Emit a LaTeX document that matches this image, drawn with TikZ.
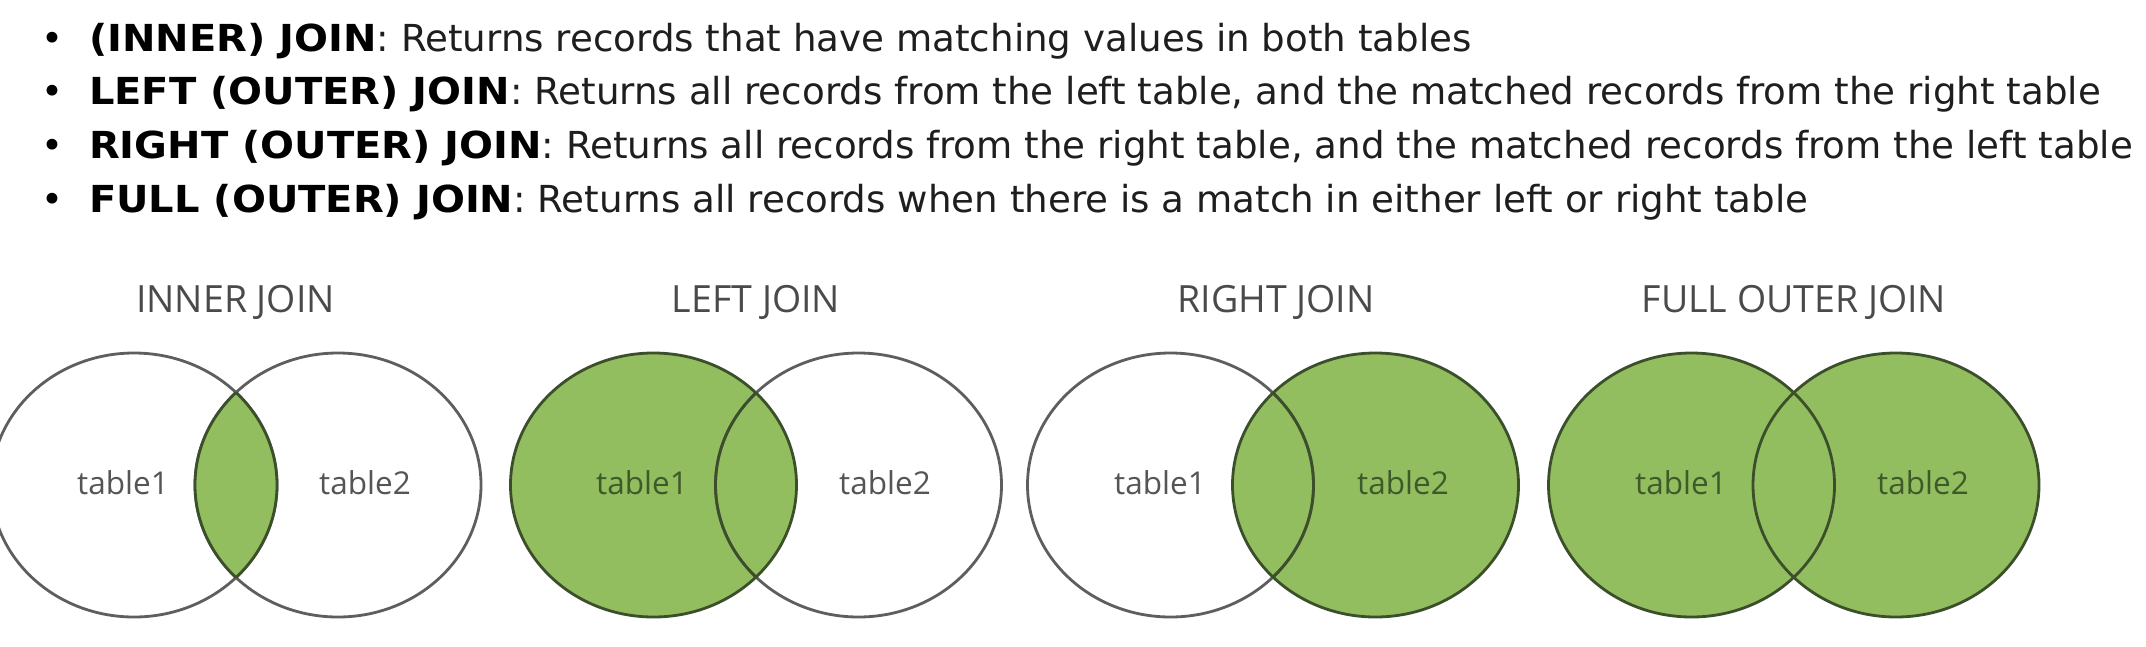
\documentclass[tikz,border=0pt]{standalone}
\usepackage{fontspec}
\setmainfont{DejaVu Sans}[BoldFeatures={FakeStretch=1.075}]
\newfontfamily\titlefont{Open Sans}
\definecolor{vgreen}{HTML}{93BE5F}
\definecolor{vgreenline}{HTML}{3B4F2B}
\definecolor{vgrayline}{HTML}{5E5E5E}
\definecolor{titlegray}{HTML}{4A4A4A}
\definecolor{labelgray}{HTML}{555555}
\definecolor{labelgreen}{HTML}{3E5A2A}
\definecolor{bodytext}{HTML}{1E1E1E}
\begin{document}
\begin{tikzpicture}[x=1pt,y=-1pt,
  bulletdot/.style={anchor=base,inner sep=0pt,font=\fontsize{37.2}{44}\selectfont,text=black},
  textline/.style={anchor=base west,inner sep=0pt,font=\fontsize{37.2}{44}\selectfont,text=bodytext},
  jointitle/.style={anchor=base,inner sep=0pt,font=\titlefont\fontsize{37.5}{44}\selectfont,text=titlegray},
  tlabel/.style={anchor=base,inner sep=0pt,font=\titlefont\fontsize{31.5}{38}\selectfont,text=labelgray},
  tlabelg/.style={tlabel,text=labelgreen},
  whitecirc/.style={draw=vgrayline,line width=2.8pt},
  greencirc/.style={draw=vgreenline,line width=2.8pt},
  greenfill/.style={fill=vgreen},
  ell/.style={x radius=143pt,y radius=132pt}
]
\useasboundingbox (0,0) rectangle (2146,646);
\fill[white] (0,0) rectangle (2146,646);

% bullet list
\node[bulletdot] (b1) at (52,51) {•};
\node[bulletdot] (b2) at (52,104.5) {•};
\node[bulletdot] (b3) at (52,158) {•};
\node[bulletdot] (b4) at (52,212) {•};
\node[textline] (l1) at (89,51) {\textcolor{black}{\bfseries (INNER) JOIN}: Returns records that have matching values in both tables};
\node[textline] (l2) at (89,104.5) {\textcolor{black}{\bfseries LEFT (OUTER) JOIN}: Returns all records from the left table, and the matched records from the right table};
\node[textline] (l3) at (89,158) {\textcolor{black}{\bfseries RIGHT (OUTER) JOIN}: Returns all records from the right table, and the matched records from the left table};
\node[textline] (l4) at (89,212) {\textcolor{black}{\bfseries FULL (OUTER) JOIN}: Returns all records when there is a match in either left or right table};

% titles
\node[jointitle] (t1) at (235.5,312) {INNER JOIN};
\node[jointitle] (t2) at (756,312) {LEFT JOIN};
\node[jointitle] (t3) at (1276,312) {RIGHT JOIN};
\node[jointitle] (t4) at (1794,312) {FULL OUTER JOIN};

% INNER JOIN
\draw[whitecirc] (134,485) ellipse [ell];
\draw[whitecirc] (338,485) ellipse [ell];
\begin{scope}
  \clip (134,485) ellipse [ell];
  \fill[greenfill] (338,485) ellipse [ell];
  \draw[greencirc] (338,485) ellipse [ell];
\end{scope}
\begin{scope}
  \clip (338,485) ellipse [ell];
  \draw[greencirc] (134,485) ellipse [ell];
\end{scope}
\node[tlabel] (i1) at (123,494) {table1};
\node[tlabel] (i2) at (365,494) {table2};

% LEFT JOIN
\fill[greenfill] (653.5,485) ellipse [ell];
\draw[whitecirc] (858.5,485) ellipse [ell];
\begin{scope}
  \clip (653.5,485) ellipse [ell];
  \draw[greencirc] (858.5,485) ellipse [ell];
\end{scope}
\draw[greencirc] (653.5,485) ellipse [ell];
\node[tlabelg] (lj1) at (642,494) {table1};
\node[tlabel] (lj2) at (885,494) {table2};

% RIGHT JOIN
\fill[greenfill] (1375.5,485) ellipse [ell];
\draw[whitecirc] (1170.5,485) ellipse [ell];
\begin{scope}
  \clip (1375.5,485) ellipse [ell];
  \draw[greencirc] (1170.5,485) ellipse [ell];
\end{scope}
\draw[greencirc] (1375.5,485) ellipse [ell];
\node[tlabel] (r1) at (1160,494) {table1};
\node[tlabelg] (r2) at (1403,494) {table2};

% FULL OUTER JOIN
\fill[greenfill] (1691.5,485) ellipse [ell];
\fill[greenfill] (1896,485) ellipse [ell];
\draw[greencirc] (1691.5,485) ellipse [ell];
\draw[greencirc] (1896,485) ellipse [ell];
\node[tlabelg] (f1) at (1681,494) {table1};
\node[tlabelg] (f2) at (1923,494) {table2};
\end{tikzpicture}
\end{document}
